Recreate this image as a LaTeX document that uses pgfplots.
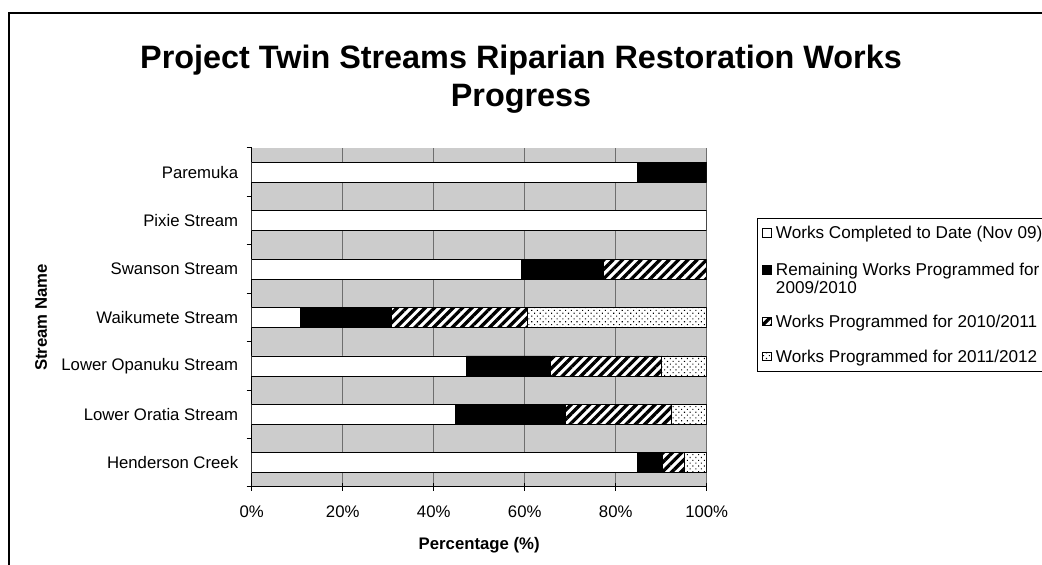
\documentclass[border=0pt]{standalone}
\usepackage{pgfplots}
\pgfplotsset{compat=1.18}
\usepackage{fontspec}
\setmainfont{Liberation Sans}
\usetikzlibrary{patterns.meta}

\definecolor{plotbg}{RGB}{204,204,204}
\definecolor{gridc}{RGB}{110,110,110}

\newcommand{\lblfont}{\fontsize{16.8}{16.5}\selectfont}
\newcommand{\legfont}{\fontsize{17.2}{16.5}\selectfont}

\begin{document}
\begin{tikzpicture}
\useasboundingbox (0,0) rectangle (1042bp,565bp);
\clip (0,0) rectangle (1042bp,565bp);
\fill[white] (0,0) rectangle (1042bp,565bp);
\draw[line width=1.6bp] (9bp,-10bp) -- (9bp,552bp) -- (1060bp,552bp);
\node[font=\fontsize{32.5}{38}\selectfont\bfseries, anchor=base, inner sep=0pt] at (521bp,496bp) {Project Twin Streams Riparian Restoration Works};
\node[font=\fontsize{32.5}{38}\selectfont\bfseries, anchor=base, inner sep=0pt] at (521bp,458bp) {Progress};
\begin{axis}[
  scale only axis, width=455bp, height=339bp,
  at={(251.7bp,78bp)}, anchor=south west,
  xbar stacked, bar width=20bp,
  xmin=0, xmax=100, ymin=-0.5, ymax=6.5,
  axis x line*=bottom, axis y line*=left,
  axis line style={-, black, line width=1bp},
  axis background/.style={fill=plotbg},
  xmajorgrids, grid style={gridc, line width=0.9bp},
  xtick={0,20,40,60,80,100},
  xticklabels={0\%,20\%,40\%,60\%,80\%,100\%},
  xtick align=center,
  major tick length=8bp, minor tick length=5bp,
  ytick={0,1,2,3,4,5,6},
  yticklabels={Henderson Creek, Lower Oratia Stream, Lower Opanuku Stream, Waikumete Stream, Swanson Stream, Pixie Stream, Paremuka},
  minor ytick={-0.5,0.5,1.5,2.5,3.5,4.5,5.5,6.5},
  ytick align=outside,
  major y tick style={draw=none},
  minor y tick style={draw=black, line width=1bp},
  major x tick style={draw=black, line width=1bp},
  tick label style={font=\lblfont},
  xticklabel style={anchor=base, yshift=-27bp},
  yticklabel style={anchor=east, xshift=-2bp},
  xlabel={Percentage (\%)},
  xlabel style={font=\lblfont\bfseries, at={(axis description cs:0.5,-0.183)}, anchor=base},
  ylabel={Stream Name},
  ylabel style={font=\lblfont\bfseries, at={(axis description cs:-0.463,0.5)}, anchor=center},
  legend style={at={(1.1105,0.7935)}, anchor=north west, draw=black, font=\legfont,
    cells={anchor=base west}, row sep=17bp, inner xsep=5bp, inner ysep=6bp},
  legend image code/.code={\draw[#1, line width=0.8bp] (0bp,1.6bp) rectangle (8.6bp,10.2bp);
    \path (11bp,5bp);},
  every axis plot/.append style={draw=black, line width=0.8bp},
]
\addplot[fill=white] coordinates {(84.8,0) (44.8,1) (47.1,2) (10.8,3) (59.3,4) (100,5) (84.8,6)};
\addplot[fill=black] coordinates {(5.5,0) (24.1,1) (18.6,2) (19.8,3) (18.0,4) (0,5) (15.2,6)};
\addplot[fill=white, postaction={pattern={Lines[angle=45,distance=6.6bp,line width=3.3bp]}}] coordinates {(4.8,0) (23.4,1) (24.3,2) (30.0,3) (22.7,4) (0,5) (0,6)};
\addplot[fill=white, postaction={pattern={Dots[angle=45,distance=4bp,radius=0.75bp]}}] coordinates {(4.9,0) (7.7,1) (10.0,2) (39.4,3) (0,4) (0,5) (0,6)};
\addlegendentry{Works Completed to Date (Nov 09)}
\addlegendentry{\begin{tabular}[t]{@{}l@{}}\rule{0pt}{14.7bp}Remaining Works Programmed for\\2009/2010\end{tabular}}
\addlegendentry{\rule{0pt}{29bp}Works Programmed for 2010/2011}
\addlegendentry{\raisebox{0pt}[\height][0pt]{Works Programmed for 2011/2012}}
\end{axis}
\end{tikzpicture}
\end{document}
